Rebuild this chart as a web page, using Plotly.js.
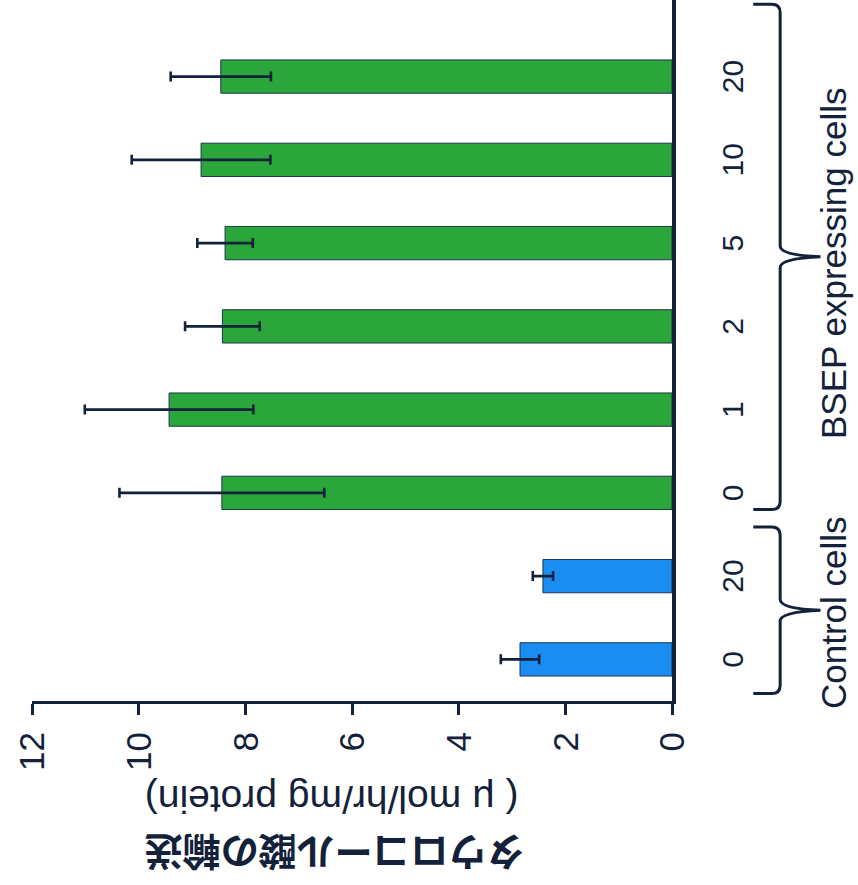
<!DOCTYPE html>
<html>
<head>
<meta charset="utf-8">
<script src="https://cdn.plot.ly/plotly-3.0.1.min.js"></script>
<style>
  html, body { margin: 0; padding: 0; background: #ffffff; overflow: hidden; }
  #frame { position: relative; width: 858px; height: 885px; overflow: hidden; background: #ffffff; }
  /* the figure is laid out upright, then turned a quarter turn counter-clockwise */
  #chart {
    position: absolute; left: 0; top: 0;
    width: 885px; height: 858px;
    transform-origin: 0 0;
    transform: translateY(885px) rotate(-90deg);
  }
</style>
</head>
<body>
<div id="frame"><div id="chart"></div></div>
<script>
// Taurocholate transport by cell type and inhibitor concentration
const doseLabels   = ['0', '20', '0', '1', '2', '5', '10', '20'];
const controlPos   = [0, 1];
const controlMean  = [2.85, 2.42];
const controlErr   = [0.36, 0.19];
const bsepPos      = [2, 3, 4, 5, 6, 7];
const bsepMean     = [8.44, 9.43, 8.43, 8.38, 8.83, 8.46];
const bsepErr      = [1.92, 1.58, 0.70, 0.52, 1.30, 0.94];
const groupNames   = ['Control cells', 'BSEP expressing cells'];
const yTitleJa     = 'タウロコール酸の輸送';
const yTitleUnit   = '( μ mol/hr/mg protein)';
const yTicks       = [0, 2, 4, 6, 8, 10, 12];

const ink = '#13223a';
const latin = 'Liberation Sans, Arial, Helvetica, sans-serif';

function errStyle(arr) {
  return { type: 'data', array: arr, visible: true, color: ink, thickness: 2.6, width: 5 };
}

const traces = [
  {
    type: 'bar', name: groupNames[0],
    x: controlPos, y: controlMean, width: 0.4,
    marker: { color: '#1b8df2', line: { color: '#1d3550', width: 1 } },
    error_y: errStyle(controlErr),
    hoverinfo: 'skip'
  },
  {
    type: 'bar', name: groupNames[1],
    x: bsepPos, y: bsepMean, width: 0.4,
    marker: { color: '#2aa63a', line: { color: '#1d3550', width: 1 } },
    error_y: errStyle(bsepErr),
    hoverinfo: 'skip'
  }
];

// curly brace under a group of categories (x in category units, y in paper units)
function brace(x0, x1, xm) {
  const yEnd = -0.127, yLine = -0.169, yTip = -0.232;
  const rx = 0.1, ry = 0.013;
  return 'M' + x0 + ',' + yEnd +
    ' L' + x0 + ',' + (yLine + ry) +
    ' Q' + x0 + ',' + yLine + ' ' + (x0 + rx) + ',' + yLine +
    ' L' + (xm - 0.13) + ',' + yLine +
    ' Q' + (xm - 0.02) + ',' + yLine + ' ' + xm + ',' + yTip +
    ' Q' + (xm + 0.02) + ',' + yLine + ' ' + (xm + 0.13) + ',' + yLine +
    ' L' + (x1 - rx) + ',' + yLine +
    ' Q' + x1 + ',' + yLine + ' ' + x1 + ',' + (yLine + ry) +
    ' L' + x1 + ',' + yEnd;
}

const braceSpans = [
  [controlPos[0] - 0.41, controlPos[controlPos.length - 1] + 0.59],
  [bsepPos[0] - 0.2, bsepPos[bsepPos.length - 1] + 0.87]
];

const shapes = braceSpans.map(s => ({
  type: 'path', xref: 'x', yref: 'paper',
  path: brace(s[0], s[1], (s[0] + s[1]) / 2),
  line: { color: ink, width: 3 },
  fillcolor: 'rgba(0,0,0,0)'
}));

const annotations = [
  {
    text: groupNames[0], xref: 'x', yref: 'paper',
    x: (braceSpans[0][0] + braceSpans[0][1]) / 2 - 0.03, y: -0.253,
    showarrow: false, xanchor: 'center', yanchor: 'middle',
    font: { family: latin, size: 35, color: ink }
  },
  {
    text: groupNames[1], xref: 'x', yref: 'paper',
    x: 4.76, y: -0.253,
    showarrow: false, xanchor: 'center', yanchor: 'middle',
    font: { family: latin, size: 35, color: ink }
  },
  {
    text: yTitleJa, xref: 'paper', yref: 'paper',
    x: -0.2184, y: 0.527, textangle: -90,
    showarrow: false, xanchor: 'center', yanchor: 'middle',
    font: { family: 'Noto Sans CJK JP, sans-serif', size: 38, color: ink, weight: 700 }
  },
  {
    text: yTitleUnit, xref: 'paper', yref: 'paper',
    x: -0.14, y: 0.532, textangle: -90,
    showarrow: false, xanchor: 'center', yanchor: 'middle',
    font: { family: latin, size: 39, color: ink }
  }
];

const layout = {
  width: 885, height: 858,
  margin: { l: 184, r: 0, t: 32, b: 186 },
  paper_bgcolor: '#ffffff', plot_bgcolor: '#ffffff',
  showlegend: false,
  barmode: 'overlay',
  font: { family: latin, color: ink },
  xaxis: {
    range: [-0.5, 7.92],
    tickmode: 'array', tickvals: controlPos.concat(bsepPos), ticktext: doseLabels,
    ticks: '', showgrid: false, zeroline: false,
    showline: true, linecolor: ink, linewidth: 4,
    tickfont: { family: latin, size: 30, color: ink },
    ticklabelstandoff: 31,
    fixedrange: true
  },
  yaxis: {
    range: [0, 12],
    tickmode: 'array', tickvals: yTicks,
    ticks: 'outside', ticklen: 11, tickwidth: 3, tickcolor: ink,
    showgrid: false, zeroline: false,
    showline: true, linecolor: ink, linewidth: 3,
    tickfont: { family: latin, size: 35, color: ink },
    ticklabelstandoff: 10,
    fixedrange: true
  },
  shapes: shapes,
  annotations: annotations
};

Plotly.newPlot('chart', traces, layout, { staticPlot: true, displayModeBar: false });
</script>
</body>
</html>
